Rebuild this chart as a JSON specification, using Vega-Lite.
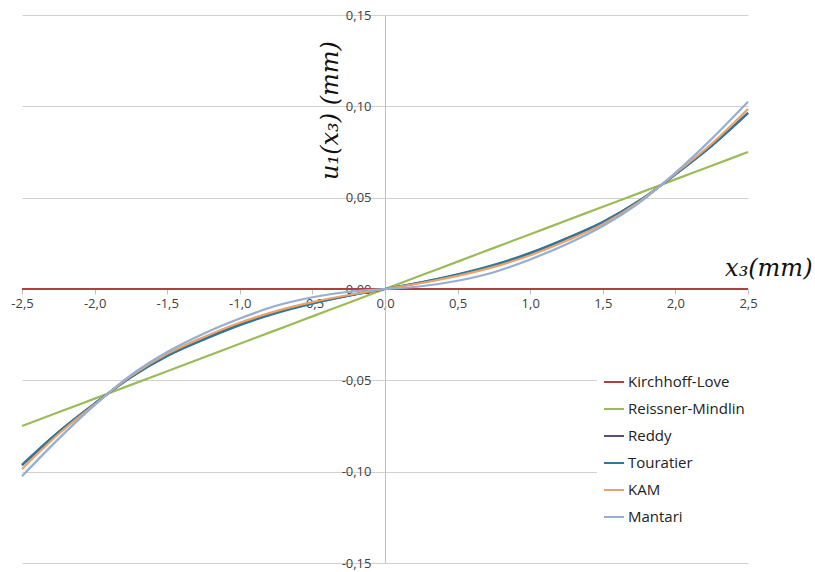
{
 "$schema": "https://vega.github.io/schema/vega-lite/v6.json",
 "width": 726, "height": 548,
 "autosize": "none",
 "padding": {"left": 22, "top": 15, "right": 67, "bottom": 9},
 "background": "white",
 "config": {
   "view": {"stroke": null},
   "locale": {"number": {"decimal": ",", "thousands": ".", "grouping": [3], "currency": ["", " €"], "minus": "-"}},
   "axis": {"labelFont": "Open Sans", "labelFontSize": 13, "labelColor": "#404040", "titleFont": "DejaVu Serif", "titleFontStyle": "italic", "titleFontWeight": "normal", "titleFontSize": 24, "titleColor": "#111111"}
 },
 "data": {"values": [
  {"x": -2.5, "Kirchhoff-Love": 0, "Reissner-Mindlin": -0.075, "Reddy": -0.0965, "Touratier": -0.0962, "KAM": -0.0985, "Mantari": -0.1025},
  {"x": -2.25, "Kirchhoff-Love": 0, "Reissner-Mindlin": -0.0675, "Reddy": -0.0785, "Touratier": -0.0783, "KAM": -0.0795, "Mantari": -0.0822},
  {"x": -2.0, "Kirchhoff-Love": 0, "Reissner-Mindlin": -0.06, "Reddy": -0.0628, "Touratier": -0.0627, "KAM": -0.0632, "Mantari": -0.0636},
  {"x": -1.75, "Kirchhoff-Love": 0, "Reissner-Mindlin": -0.0525, "Reddy": -0.0482, "Touratier": -0.0483, "KAM": -0.0477, "Mantari": -0.0472},
  {"x": -1.5, "Kirchhoff-Love": 0, "Reissner-Mindlin": -0.045, "Reddy": -0.0365, "Touratier": -0.0367, "KAM": -0.0355, "Mantari": -0.0345},
  {"x": -1.25, "Kirchhoff-Love": 0, "Reissner-Mindlin": -0.0375, "Reddy": -0.0275, "Touratier": -0.0278, "KAM": -0.0264, "Mantari": -0.0245},
  {"x": -1.0, "Kirchhoff-Love": 0, "Reissner-Mindlin": -0.03, "Reddy": -0.0195, "Touratier": -0.0198, "KAM": -0.0185, "Mantari": -0.0162},
  {"x": -0.75, "Kirchhoff-Love": 0, "Reissner-Mindlin": -0.0225, "Reddy": -0.0129, "Touratier": -0.0132, "KAM": -0.0121, "Mantari": -0.0092},
  {"x": -0.5, "Kirchhoff-Love": 0, "Reissner-Mindlin": -0.015, "Reddy": -0.0078, "Touratier": -0.008, "KAM": -0.0072, "Mantari": -0.0045},
  {"x": -0.25, "Kirchhoff-Love": 0, "Reissner-Mindlin": -0.0075, "Reddy": -0.0036, "Touratier": -0.0037, "KAM": -0.0033, "Mantari": -0.0015},
  {"x": 0, "Kirchhoff-Love": 0, "Reissner-Mindlin": 0, "Reddy": 0, "Touratier": 0, "KAM": 0, "Mantari": 0},
  {"x": 0.25, "Kirchhoff-Love": 0, "Reissner-Mindlin": 0.0075, "Reddy": 0.0036, "Touratier": 0.0037, "KAM": 0.0033, "Mantari": 0.0015},
  {"x": 0.5, "Kirchhoff-Love": 0, "Reissner-Mindlin": 0.015, "Reddy": 0.0078, "Touratier": 0.008, "KAM": 0.0072, "Mantari": 0.0045},
  {"x": 0.75, "Kirchhoff-Love": 0, "Reissner-Mindlin": 0.0225, "Reddy": 0.0129, "Touratier": 0.0132, "KAM": 0.0121, "Mantari": 0.0092},
  {"x": 1.0, "Kirchhoff-Love": 0, "Reissner-Mindlin": 0.03, "Reddy": 0.0195, "Touratier": 0.0198, "KAM": 0.0185, "Mantari": 0.0162},
  {"x": 1.25, "Kirchhoff-Love": 0, "Reissner-Mindlin": 0.0375, "Reddy": 0.0275, "Touratier": 0.0278, "KAM": 0.0264, "Mantari": 0.0245},
  {"x": 1.5, "Kirchhoff-Love": 0, "Reissner-Mindlin": 0.045, "Reddy": 0.0365, "Touratier": 0.0367, "KAM": 0.0355, "Mantari": 0.0345},
  {"x": 1.75, "Kirchhoff-Love": 0, "Reissner-Mindlin": 0.0525, "Reddy": 0.0482, "Touratier": 0.0483, "KAM": 0.0477, "Mantari": 0.0472},
  {"x": 2.0, "Kirchhoff-Love": 0, "Reissner-Mindlin": 0.06, "Reddy": 0.0628, "Touratier": 0.0627, "KAM": 0.0632, "Mantari": 0.0636},
  {"x": 2.25, "Kirchhoff-Love": 0, "Reissner-Mindlin": 0.0675, "Reddy": 0.0785, "Touratier": 0.0783, "KAM": 0.0795, "Mantari": 0.0822},
  {"x": 2.5, "Kirchhoff-Love": 0, "Reissner-Mindlin": 0.075, "Reddy": 0.0965, "Touratier": 0.0962, "KAM": 0.0985, "Mantari": 0.1025}
 ]},
 "transform": [{"fold": ["Kirchhoff-Love", "Reissner-Mindlin", "Reddy", "Touratier", "KAM", "Mantari"], "as": ["series", "u"]}],
 "mark": {"type": "line", "interpolate": "monotone", "strokeWidth": 2.2},
 "encoding": {
   "x": {"field": "x", "type": "quantitative", "scale": {"domain": [-2.5, 2.5], "nice": false},
     "axis": {"orient": "bottom", "offset": -274, "values": [-2.5, -2, -1.5, -1, -0.5, 0, 0.5, 1, 1.5, 2, 2.5], "format": ".1f", "grid": false, "domainColor": "#BFBFBF", "tickColor": "#BFBFBF", "tickSize": 5, "labelPadding": 3, "labelFlush": false, "labelOverlap": false, "labelBound": false,
       "title": "x₃(mm)", "titleX": 790, "titleY": -21, "titleAlign": "right", "titleBaseline": "middle", "titleAngle": 0}},
   "y": {"field": "u", "type": "quantitative", "scale": {"domain": [-0.15, 0.15], "nice": false},
     "axis": {"orient": "left", "offset": -363, "values": [-0.15, -0.1, -0.05, 0, 0.05, 0.1, 0.15], "format": ".2f", "grid": true, "gridColor": "#D0D0D0", "domainColor": "#BFBFBF", "ticks": false, "labelPadding": 14, "labelOverlap": false, "labelBound": false,
       "title": "u₁(x₃) (mm)", "titleX": -55, "titleY": 95, "titleAngle": -90, "titleAlign": "center", "titleBaseline": "middle"}},
   "color": {"field": "series", "type": "nominal",
     "scale": {"domain": ["Kirchhoff-Love", "Reissner-Mindlin", "Reddy", "Touratier", "KAM", "Mantari"], "range": ["#B0403F", "#9BBB59", "#5E4A80", "#2F7698", "#E8A26A", "#96AED2"]},
     "legend": {"orient": "none", "legendX": 575, "legendY": 350, "padding": 6, "fillColor": "white", "title": null, "symbolType": "stroke", "symbolSize": 400, "symbolStrokeWidth": 2, "labelFont": "Open Sans", "labelFontSize": 15, "labelColor": "#222222", "rowPadding": 8, "labelOffset": 3}}
 }
}
